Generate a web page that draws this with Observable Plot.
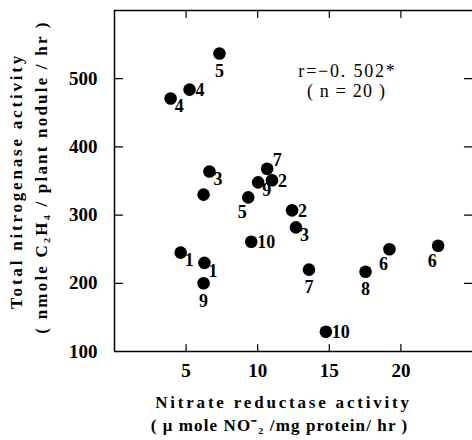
<!DOCTYPE html>
<html><head><meta charset="utf-8">
<script src="https://cdn.jsdelivr.net/npm/d3@7"></script>
<script src="https://cdn.jsdelivr.net/npm/@observablehq/plot@0.6"></script>
<style>body{margin:0;background:#fff} svg{display:block;background:#fff}</style>
</head><body><div id="chart"></div>
<script>
// Nitrate reductase activity (µmole NO2-/mg protein/hr)
const nitrateReductase = [7.33, 5.24, 3.92, 6.63, 6.22, 4.62, 6.28, 6.22, 10.66, 11.0,
                          10.03, 9.34, 12.4, 12.67, 9.55, 13.58, 17.53, 19.2, 22.6, 14.76];
// Total nitrogenase activity (nmole C2H4/plant nodule/hr)
const nitrogenase = [537, 484, 471, 364, 330, 245, 230, 200, 368, 351,
                     348, 326, 307, 282, 261, 220, 217, 250, 255, 129];
// plant labels next to points
const plantLabels = ["5", "4", "4", "3", "", "1", "1", "9", "7", "2",
                     "9", "5", "2", "3", "10", "7", "8", "6", "6", "10"];
// side of the point on which the label sits
const labelSide = ["b", "r", "br", "br", "b", "br", "br", "b", "tr", "r",
                   "br", "bl", "r", "br", "r", "b", "b", "bl", "bl", "r"];
const xTicks = [5, 10, 15, 20];
const yTicks = [100, 200, 300, 400, 500];
const yInnerTicks = [200, 300, 400, 500];
const statLines = ["r=−0. 502*", "( n = 20 )"];
const xTitle = ["Nitrate reductase activity", "( μ mole NO⁻₂ /mg protein/ hr )"];
const yTitle = ["Total nitrogenase activity", "( nmole C₂H₄ / plant nodule / hr )"];

const points = nitrateReductase.map((x, i) => ({
  x, y: nitrogenase[i], label: plantLabels[i], side: labelSide[i]
}));

const sides = {
  r:  {textAnchor: "start",  dx: 6,  dy: 1},
  br: {textAnchor: "start",  dx: 4,  dy: 8},
  b:  {textAnchor: "middle", dx: 0,  dy: 18},
  bl: {textAnchor: "middle", dx: -6, dy: 15},
  tr: {textAnchor: "middle", dx: 10, dy: -8}
};

const tickShape = {draw(ctx, l) { ctx.moveTo(0, 0); ctx.lineTo(0, -l); }};
const font = "Liberation Serif";

const labelMarks = Object.entries(sides).map(([k, o]) =>
  Plot.text(points.filter(d => d.side === k && d.label), {
    x: "x", y: "y", text: "label", ...o, lineAnchor: "middle", fontSize: 18, fontWeight: "bold", fill: "black"
  })
);

const titleText = (t, o) => Plot.text([t], {text: d => d, lineAnchor: "middle", textAnchor: "middle", fontWeight: "bold", fontSize: 17, ...o});

const chart = Plot.plot({
  width: 472,
  height: 440,
  marginLeft: 114,
  marginRight: 0,
  marginTop: 10,
  marginBottom: 89,
  style: {fontFamily: font, fontWeight: "bold", fontSize: "17px", color: "black", background: "#fff"},
  x: {domain: [0, 25], axis: null},
  y: {domain: [100, 600], axis: null},
  marks: [
    // frame lines
    Plot.ruleX([0], {stroke: "black", strokeWidth: 1.5}),
    Plot.ruleY([100, 600], {stroke: "black", strokeWidth: 1.5}),
    // inward ticks
    Plot.vector(xTicks, {x: d => d, frameAnchor: "bottom", length: 7, rotate: 0, anchor: "start", shape: tickShape, stroke: "black", strokeWidth: 1.2}),
    Plot.vector(xTicks, {x: d => d, frameAnchor: "top", length: 7, rotate: 180, anchor: "start", shape: tickShape, stroke: "black", strokeWidth: 1.2}),
    Plot.vector(yInnerTicks, {y: d => d, frameAnchor: "left", length: 8, rotate: 90, anchor: "start", shape: tickShape, stroke: "black", strokeWidth: 1.2}),
    Plot.vector(yInnerTicks, {y: d => d, frameAnchor: "right", length: 8, rotate: -90, anchor: "start", shape: tickShape, stroke: "black", strokeWidth: 1.2}),
    // tick labels
    Plot.axisX(xTicks, {anchor: "bottom", tickSize: 0, tickPadding: 12, label: null, fontSize: 19, fontWeight: "bold"}),
    Plot.axisY(yTicks, {anchor: "left", tickSize: 0, tickPadding: 17, label: null, fontSize: 19, fontWeight: "bold"}),
    // points
    Plot.dot(points, {x: "x", y: "y", r: 6.3, fill: "black", stroke: null}),
    ...labelMarks,
    // statistics annotation
    titleText(statLines[0], {frameAnchor: "top", dx: 54, dy: 61, fontSize: 18, fontWeight: "normal"}),
    titleText(statLines[1], {frameAnchor: "top", dx: 53, dy: 81, fontSize: 18, fontWeight: "normal"}),
    // axis titles
    titleText(xTitle[0], {frameAnchor: "bottom", dx: -10, dy: 51}),
    titleText(xTitle[1], {frameAnchor: "bottom", dx: -14, dy: 74}),
    titleText(yTitle[0], {frameAnchor: "left", dx: -98, dy: 0, rotate: -90}),
    titleText(yTitle[1], {frameAnchor: "left", dx: -73, dy: -4, rotate: -90})
  ]
});

// wide letter spacing of the typeset original
const spacing = new Map([
  [xTitle[0], 2.8], [xTitle[1], 1.1], [yTitle[0], 2.8], [yTitle[1], 2.2],
  [statLines[0], 1.8], [statLines[1], 1.2]
]);
d3.select(chart).selectAll("text").each(function() {
  const s = spacing.get(this.textContent);
  if (s) this.setAttribute("letter-spacing", s + "px");
});
document.getElementById("chart").appendChild(chart);
</script>
</body></html>
